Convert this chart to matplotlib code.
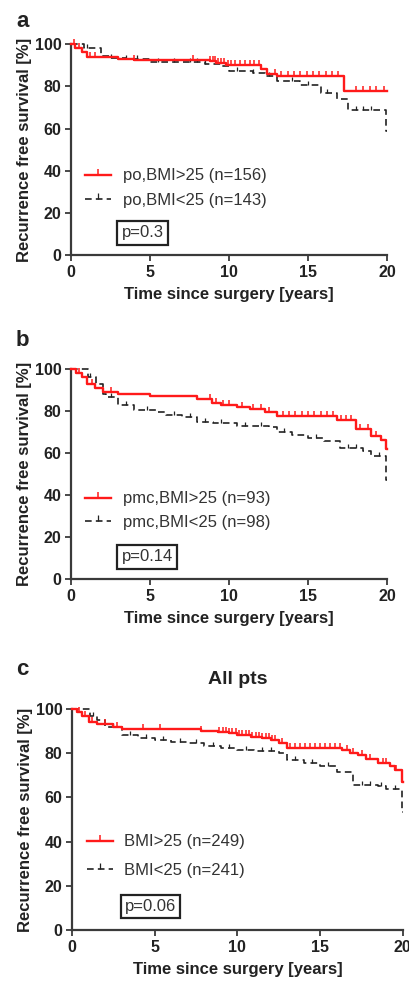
import numpy as np
import matplotlib
matplotlib.use('Agg')
import matplotlib.pyplot as plt
from matplotlib.lines import Line2D

plt.rcParams['font.family'] = ['Liberation Sans', 'DejaVu Sans']

# ---- panel a : po ----
a_red_t = [0, 0.25, 0.7, 1.0, 3.0, 4.0, 8.8, 9.2, 9.8, 12.0, 12.4, 13.0, 17.3, 20]
a_red_s = [100, 98, 96.5, 94, 93, 92.5, 92, 91, 90, 88, 86, 85, 78, 78]
a_blk_t = [0, 0.8, 1.9, 2.5, 3.5, 5.0, 8.5, 9.5, 10.0, 11.5, 12.3, 13.0, 14.5, 15.8, 16.8, 17.5, 19.95, 20]
a_blk_s = [100, 98, 94.5, 93.5, 93, 91.5, 90.5, 89.5, 87.5, 86.5, 85, 82.5, 80.5, 77, 74, 69, 59, 59]
a_red_cens = [0.2, 0.5, 1.2, 1.5, 4.0, 7.7, 8.8, 9.0, 9.1, 9.3, 9.5, 9.7, 9.9, 10.1, 10.4, 10.7,
              11.0, 11.3, 11.6, 11.9, 12.9, 13.3, 13.7, 14.1, 14.5, 14.9, 15.3, 15.7, 16.1, 16.5,
              16.9, 18.0, 18.5, 18.9, 19.3, 19.8]
a_blk_cens = [1.0, 2.5, 3.5, 4.2, 5.5, 6.5, 7.5, 8.0, 8.5, 10.5, 11.5, 12.5, 14.0, 15.0, 16.2,
              18.0, 18.5, 19.0]

# ---- panel b : pmc ----
b_red_t = [0, 0.3, 0.7, 1.0, 1.5, 2.0, 3.0, 5.0, 8.0, 8.9, 9.5, 10.5, 11.3, 12.3, 13.0, 16.8,
           18.0, 19.0, 19.6, 19.95, 20]
b_red_s = [100, 98, 96, 93, 91, 89, 88, 87, 85.5, 84, 83, 82, 81, 79.5, 77.5, 75.5, 71.5, 68,
           66, 62, 62]
b_blk_t = [0, 1.1, 1.6, 2.0, 2.2, 3.0, 4.0, 5.5, 6.0, 7.0, 8.0, 9.0, 10.5, 12.5, 13.0, 14.0,
           15.0, 16.0, 17.0, 18.5, 19.0, 19.95, 20]
b_blk_s = [100, 96, 93, 88, 86.5, 83, 80.5, 79.5, 78, 77, 75, 74.5, 73, 72.5, 70, 68.5, 67, 65.5,
           62.5, 61, 58.5, 47, 47]
b_red_cens = [0.5, 1.3, 2.5, 8.8, 9.2, 9.6, 10.0, 10.8, 11.5, 12.0, 12.5, 13.4, 13.8, 14.2, 14.6,
              15.0, 15.4, 15.8, 16.2, 16.6, 17.1, 17.4, 17.7, 18.3, 18.8, 19.3]
b_blk_cens = [1.2, 2.5, 3.5, 4.8, 6.5, 7.5, 8.5, 9.5, 11.0, 12.0, 13.5, 15.5, 17.5, 18.0, 19.5]

# ---- panel c : all pts ----
c_red_t = [0, 0.3, 0.6, 1.0, 1.5, 2.5, 3.0, 7.8, 8.8, 9.5, 10.0, 10.8, 11.5, 12.0, 12.5, 13.0,
           16.3, 16.8, 17.3, 17.8, 18.5, 19.2, 19.5, 19.95, 20]
c_red_s = [100, 98.5, 97, 94, 93, 92, 91, 90, 89.5, 89, 88.3, 87.5, 86.8, 85.8, 84.5, 82.2,
           81.5, 80, 79, 77.5, 75.5, 74, 72.5, 67, 67]
c_blk_t = [0, 1.1, 1.5, 2.0, 3.0, 4.0, 5.0, 6.0, 7.0, 8.0, 9.0, 10.0, 11.0, 12.5, 13.0, 14.0,
           15.0, 16.0, 17.0, 18.5, 19.0, 19.95, 20]
c_blk_s = [100, 97, 95, 92, 88, 87, 86, 85, 84.5, 83.3, 82.5, 81.5, 81, 80, 77, 75.5, 74, 71.5,
           65.5, 65, 64, 53.5, 53.5]
c_red_cens = [0.4, 0.8, 1.2, 2.0, 2.7, 4.3, 5.3, 7.8, 8.9, 9.1, 9.3, 9.5, 9.7, 9.9, 10.1, 10.3,
              10.5, 10.7, 10.9, 11.1, 11.3, 11.5, 11.7, 11.9, 12.1, 12.3, 12.7, 13.2, 13.5, 13.8,
              14.1, 14.4, 14.7, 15.0, 15.3, 15.6, 15.9, 16.2, 16.6, 17.0, 17.5, 18.0, 18.8, 19.0,
              19.6]
c_blk_cens = [1.3, 2.5, 3.5, 4.5, 5.5, 6.5, 7.5, 8.5, 9.5, 10.5, 11.5, 12.0, 13.5, 14.5, 15.5,
              17.5, 18.0, 18.7, 19.5]

panels = [
    dict(label='a', label_y=0.9776, title=None,
         red=(a_red_t, a_red_s, a_red_cens), blk=(a_blk_t, a_blk_s, a_blk_cens),
         names=['po,BMI>25 (n=156)', 'po,BMI<25 (n=143)'], p='p=0.3',
         rect=[0.1736, 0.740, 0.773, 0.215], leg_y=0.222, leg_sp=0.59),
    dict(label='b', label_y=0.6524, title=None,
         red=(b_red_t, b_red_s, b_red_cens), blk=(b_blk_t, b_blk_s, b_blk_cens),
         names=['pmc,BMI>25 (n=93)', 'pmc,BMI<25 (n=98)'], p='p=0.14',
         rect=[0.1736, 0.4098, 0.773, 0.214], leg_y=0.232, leg_sp=0.53),
    dict(label='c', label_y=0.318, title='All pts',
         red=(c_red_t, c_red_s, c_red_cens), blk=(c_blk_t, c_blk_s, c_blk_cens),
         names=['BMI>25 (n=249)', 'BMI<25 (n=241)'], p='p=0.06',
         rect=[0.176, 0.052, 0.809, 0.2253], leg_y=0.234, leg_sp=0.83),
]

RED = '#ff1a1a'
AXC = '#3a3a3a'
TXT = '#222222'


def surv_at(t, s, x):
    idx = np.searchsorted(np.array(t), np.array(x), side='right') - 1
    return np.array(s)[idx]


fig = plt.figure(figsize=(4.09, 9.81), dpi=100)

for pn in panels:
    ax = fig.add_axes(pn['rect'])
    rt, rs, rc = pn['red']
    bt, bs, bc = pn['blk']

    ax.step(bt, bs, where='post', color=TXT, lw=1.2, ls=(0, (4, 2.5)), clip_on=False, zorder=3)
    ax.plot(bc, surv_at(bt, bs, bc), ls='none', marker=2, ms=3, mew=0.9, color=TXT,
            clip_on=False, zorder=3)
    ax.step(rt, rs, where='post', color=RED, lw=1.7, clip_on=False, zorder=4)
    ax.plot(rc, surv_at(rt, rs, rc), ls='none', marker=2, ms=3.5, mew=1.1, color=RED,
            clip_on=False, zorder=4)

    ax.set_xlim(0, 20)
    ax.set_ylim(0, 100)
    ax.set_xticks([0, 5, 10, 15, 20])
    ax.set_yticks([0, 20, 40, 60, 80, 100])
    for side in ['top', 'right']:
        ax.spines[side].set_visible(False)
    for side in ['left', 'bottom']:
        ax.spines[side].set_color(AXC)
        ax.spines[side].set_linewidth(1.6)
    ax.tick_params(direction='out', length=4, width=1.3, color=AXC, labelsize=11.5, pad=3)
    for lab in ax.get_xticklabels() + ax.get_yticklabels():
        lab.set_fontweight('bold')
        lab.set_color(TXT)

    ax.set_xlabel('Time since surgery [years]', fontsize=12, fontweight='bold',
                  color=TXT, labelpad=5)
    ax.set_ylabel('Recurrence free survival [%]', fontsize=12, fontweight='bold',
                  color=TXT, labelpad=2)

    handles = [Line2D([], [], color=RED, lw=1.7, marker=2, ms=4, mew=1.1, markevery=[1]),
               Line2D([], [], color=TXT, lw=1.2, ls=(0, (4, 2.5)), marker=2, ms=4, mew=0.9,
                      markevery=[1])]
    for h in handles:
        h.set_data([0, 0.5, 1], [0, 0, 0])
    leg = ax.legend(handles, pn['names'], loc='lower left', bbox_to_anchor=(0.045, pn['leg_y']),
                    frameon=False, fontsize=12, handlelength=1.55, handletextpad=0.7,
                    labelspacing=pn['leg_sp'], borderaxespad=0, borderpad=0)
    for txt in leg.get_texts():
        txt.set_color('#333333')

    ax.text(3.2, 10.5, pn['p'], fontsize=12, color='#333333', va='center', ha='left',
            bbox=dict(boxstyle='square,pad=0.25', fc='white', ec=TXT, lw=1.6))

    fig.text(0.055, pn['label_y'], pn['label'], fontsize=16, fontweight='bold',
             color=TXT, va='center', ha='center')
    if pn['title']:
        ax.set_title(pn['title'], fontsize=14, fontweight='bold', color=TXT, pad=18)

fig.savefig('out.png', dpi=100)
